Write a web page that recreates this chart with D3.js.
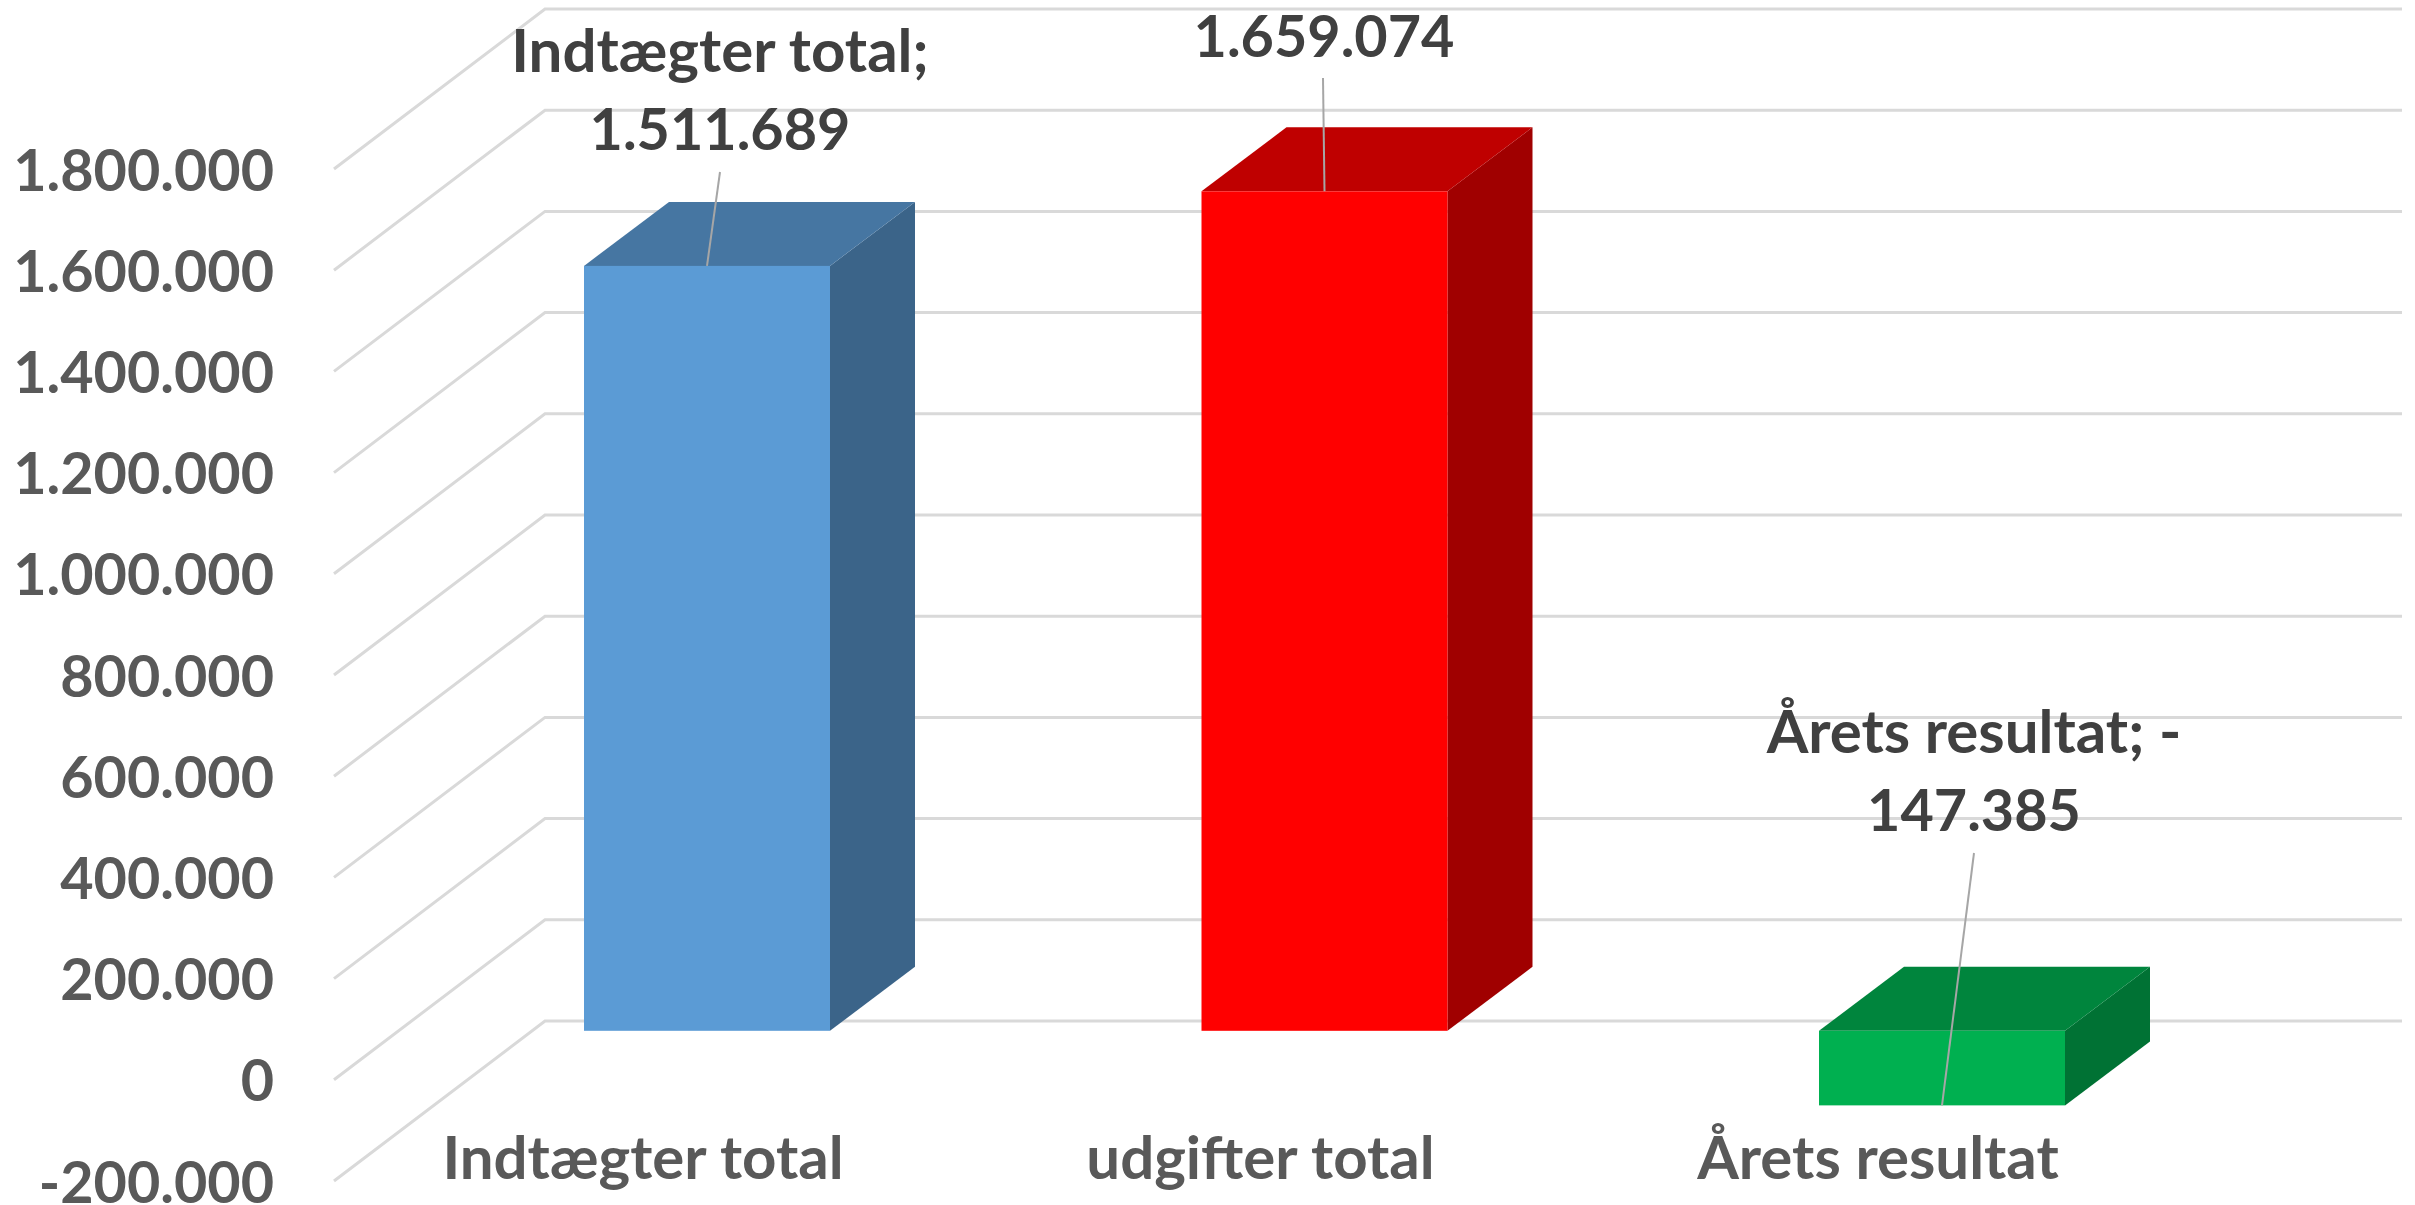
<!DOCTYPE html>
<html>
<head>
<meta charset="utf-8">
<script src="https://cdn.jsdelivr.net/npm/d3@7"></script>
<style>
  html, body { margin: 0; padding: 0; background: #fff; }
  svg { display: block; font-family: Lato, "Open Sans", sans-serif; font-weight: 700; }
</style>
</head>
<body>
<div id="chart"></div>
<script>
// Data
var categories = ["Indtægter total", "udgifter total", "Årets resultat"];
var values = [1511689, 1659074, -147385];
var tickValues = [-200000, 0, 200000, 400000, 600000, 800000, 1000000, 1200000, 1400000, 1600000, 1800000];
// first label line is off the top of the picture for the middle bar
var labelNames = ["Indtægter total;", null, "Årets resultat; -"];
var labelValues = ["1.511.689", "1.659.074", "147.385"];

var frontColors = ["#5b9bd5", "#ff0000", "#00b050"];
var topColors = ["#4676a2", "#bf0000", "#00853d"];
var sideColors = ["#3b6489", "#a00000", "#007234"];

// Layout
var width = 2415;
var height = 1205;
var wallFront = 334;      // left end of the slanted grid lines
var wallDepthX = 211;
var wallDepthY = 160;
var gridRight = 2402;
var barHalf = 123;
var barFrontY = 49;       // bar front face sits this far up the floor
var barDepthX = 85;
var barDepthY = 64;
var labelShift = -64;     // category labels sit left of the bars
var wordSize = "60px";
var numberSize = "57.5px";

// where each data label block is centred, and its first baseline
var labelCx = [720, 1324, 1974];
var labelBase = [72, -21, 753];
var labelLine = 78;
var leaderTop = [172, 78, 853];

var locale = d3.formatLocale({ decimal: ",", thousands: ".", grouping: [3], currency: ["", ""], minus: "-" });
var fmt = locale.format(",d");

var x = d3.scalePoint().domain(categories).range([707, 1942]);
var y = d3.scaleLinear().domain([-200000, 1800000]).range([1181, 169]);

var svg = d3.select("#chart").append("svg")
  .attr("width", width)
  .attr("height", height)
  .attr("viewBox", "0 0 " + width + " " + height);

// Grid lines run back along the side wall, then across the back wall
var line = d3.line();
svg.append("g").selectAll("path")
  .data(tickValues)
  .enter().append("path")
  .attr("fill", "none")
  .attr("stroke", "#d9d9d9")
  .attr("stroke-width", 3)
  .attr("d", function(d) {
    var back = y(d) - wallDepthY;
    return line([[wallFront, y(d)], [wallFront + wallDepthX, back], [gridRight, back]]);
  });

// Axis
var axis = d3.axisLeft(y)
  .tickValues(tickValues)
  .tickFormat(fmt)
  .tickSize(0)
  .tickPadding(60);

var axisG = svg.append("g")
  .attr("transform", "translate(" + wallFront + ",0)")
  .call(axis)
  .attr("font-family", null)
  .attr("font-size", null);
axisG.select(".domain").remove();
axisG.selectAll("text")
  .attr("dy", 21)
  .attr("fill", "#595959")
  .style("font-size", numberSize);

// Bars
var bars = svg.append("g").selectAll("g")
  .data(categories)
  .enter().append("g");

function barTop(i) { return y(Math.max(values[i], 0)) - barFrontY; }
function barBottom(i) { return y(Math.min(values[i], 0)) - barFrontY; }

bars.append("path")
  .attr("fill", function(d, i) { return sideColors[i]; })
  .attr("d", function(d, i) {
    var r = x(d) + barHalf;
    return line([
      [r, barTop(i)], [r + barDepthX, barTop(i) - barDepthY],
      [r + barDepthX, barBottom(i) - barDepthY], [r, barBottom(i)]
    ]) + "Z";
  });

bars.append("path")
  .attr("fill", function(d, i) { return topColors[i]; })
  .attr("d", function(d, i) {
    var l = x(d) - barHalf, r = x(d) + barHalf;
    return line([
      [l, barTop(i)], [l + barDepthX, barTop(i) - barDepthY],
      [r + barDepthX, barTop(i) - barDepthY], [r, barTop(i)]
    ]) + "Z";
  });

bars.append("rect")
  .attr("x", function(d) { return x(d) - barHalf; })
  .attr("y", function(d, i) { return barTop(i); })
  .attr("width", barHalf * 2)
  .attr("height", function(d, i) { return barBottom(i) - barTop(i); })
  .attr("fill", function(d, i) { return frontColors[i]; });

// Leader lines
svg.append("g").selectAll("line")
  .data(categories)
  .enter().append("line")
  .attr("x1", function(d, i) { return labelCx[i] - (i === 1 ? 1 : 0); })
  .attr("y1", function(d, i) { return leaderTop[i]; })
  .attr("x2", function(d) { return x(d); })
  .attr("y2", function(d, i) { return values[i] < 0 ? barBottom(i) : barTop(i); })
  .attr("stroke", "#a6a6a6")
  .attr("stroke-width", 2);

// Category labels
svg.append("g").selectAll("text")
  .data(categories)
  .enter().append("text")
  .attr("x", function(d) { return x(d) + labelShift; })
  .attr("y", 1179)
  .attr("text-anchor", "middle")
  .attr("fill", "#595959")
  .style("font-size", wordSize)
  .text(function(d) { return d; });

// Data labels
var labels = svg.append("g").selectAll("text")
  .data(categories)
  .enter().append("text")
  .attr("text-anchor", "middle")
  .attr("fill", "#404040");

labels.filter(function(d, i) { return labelNames[i] !== null; })
  .append("tspan")
  .attr("x", function(d) { return labelCx[categories.indexOf(d)]; })
  .attr("y", function(d) { return labelBase[categories.indexOf(d)]; })
  .style("font-size", wordSize)
  .text(function(d) { return labelNames[categories.indexOf(d)]; });

labels.append("tspan")
  .attr("x", function(d, i) { return labelCx[i]; })
  .attr("y", function(d, i) { return labelBase[i] + labelLine; })
  .style("font-size", numberSize)
  .text(function(d, i) { return labelValues[i]; });
</script>
</body>
</html>
